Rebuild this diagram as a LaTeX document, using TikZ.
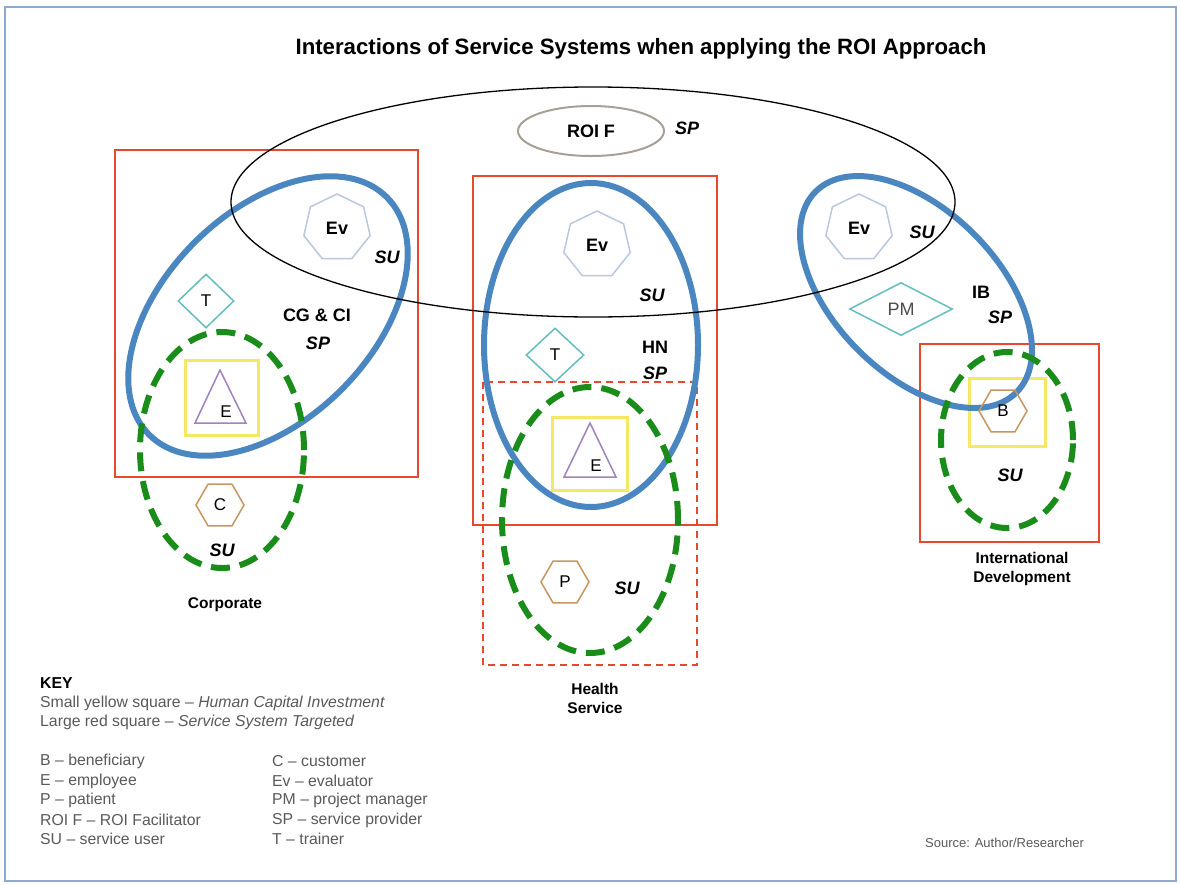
\documentclass[tikz,border=0pt]{standalone}
\usepackage{fontspec}
\setmainfont{Liberation Sans}
\usetikzlibrary{shapes.geometric,calc}
\definecolor{redc}{RGB}{232,72,44}
\definecolor{bluec}{RGB}{74,134,192}
\definecolor{greenc}{RGB}{26,140,26}
\definecolor{yellowc}{RGB}{245,232,100}
\definecolor{heptc}{RGB}{185,200,222}
\definecolor{diac}{RGB}{100,190,190}
\definecolor{purpc}{RGB}{160,130,190}
\definecolor{hexc}{RGB}{200,150,95}
\definecolor{roic}{RGB}{168,160,150}
\definecolor{framec}{RGB}{140,170,210}
\definecolor{keyc}{RGB}{90,90,90}
\begin{document}
\begin{tikzpicture}[x=1pt,y=-1pt,
  redbox/.style={draw=redc, line width=2},
  reddash/.style={draw=redc, line width=1.6, dash pattern=on 7pt off 5pt},
  blueline/.style={draw=bluec, line width=6},
  greenline/.style={draw=greenc, line width=6, dash pattern=on 19pt off 10pt},
  yellowsq/.style={draw=yellowc, line width=3},
  hept/.style={regular polygon, regular polygon sides=7, draw=heptc, line width=1.5, minimum size=68, inner sep=0, font=\fontsize{18}{21}\selectfont\bfseries},
  hexa/.style={regular polygon, regular polygon sides=6, draw=hexc, line width=1.5, minimum size=48, inner sep=0, font=\fontsize{17}{20}\selectfont},
  dia/.style={diamond, draw=diac, line width=1.5, inner sep=0, font=\fontsize{17}{20}\selectfont},
  tri/.style={draw=purpc, line width=1.5},
  lab/.style={inner sep=0, font=\fontsize{18}{21}\selectfont\bfseries},
  ilab/.style={inner sep=0, font=\fontsize{18}{21}\selectfont\bfseries\itshape},
  area/.style={inner sep=0, align=center, font=\fontsize{15.5}{19}\selectfont\bfseries},
  keytxt/.style={anchor=west, inner sep=0, text=keyc, font=\fontsize{15.8}{19}\selectfont}
]
\useasboundingbox (0,0) rectangle (1180,884);
\fill[white] (0,0) rectangle (1180,884);
\draw[framec, line width=1.5] (5,7) rectangle (1176,881);

\node[inner sep=0, font=\fontsize{22.2}{26}\selectfont\bfseries] (title) at (641,49) {Interactions of Service Systems when applying the ROI Approach};

% red target boxes
\draw[redbox] (115,150) rectangle (418,477);
\draw[redbox] (473,176) rectangle (717,525);
\draw[redbox] (920,344) rectangle (1099,542);
\draw[reddash] (483,382) rectangle (697,665);

% yellow squares
\draw[yellowsq] (185,360) rectangle (258,435);
\draw[yellowsq] (552,417) rectangle (627,490);
\draw[yellowsq] (969,378) rectangle (1045,446);

% blue ellipses
\draw[blueline, rotate around={45:(268,316)}] (268,316) ellipse [x radius=168pt, y radius=104pt];
\draw[blueline] (591,345) ellipse [x radius=107pt, y radius=162pt];
\draw[blueline, rotate around={-45:(916,292)}] (916,292) ellipse [x radius=142pt, y radius=82pt];

% green dashed ellipses
\draw[greenline] (222,450) ellipse [x radius=82pt, y radius=118pt];
\draw[greenline] (590,520) ellipse [x radius=88pt, y radius=133pt];
\draw[greenline] (1007,440) ellipse [x radius=66pt, y radius=88pt];

% big black ellipse
\draw[black, line width=1.3] (593,202) ellipse [x radius=362pt, y radius=115pt];

% ROI F
\node[ellipse, draw=roic, line width=2, minimum width=146, minimum height=50, inner sep=0, font=\fontsize{18}{21}\selectfont\bfseries] (roif) at (591,131) {ROI F};
\node[ilab] (roisp) at (687,128) {SP};

% Corporate
\node[hept] (ev1) at (337,228) {Ev};
\node[ilab] (su1) at (387,257) {SU};
\node[lab] (cg) at (317,315) {CG \& CI};
\node[ilab] (sp1) at (318,343) {SP};
\node[dia, minimum width=56, minimum height=54] (t1) at (206,301) {T};
\coordinate (tri1) at (220,403);
\draw[tri] ($(tri1)+(0,-33)$) -- ($(tri1)+(-25,20)$) -- ($(tri1)+(26,20)$) -- cycle;
\node[inner sep=0, font=\fontsize{17}{20}\selectfont] (e1) at (226,412) {E};
\node[hexa] (c1) at (220,505) {C};
\node[ilab] (su1b) at (222,550) {SU};
\node[area] (corp) at (225,605) {Corporate};

% Health service
\node[hept] (ev2) at (597,245) {Ev};
\node[ilab] (su2) at (652,295) {SU};
\node[lab] (hn) at (655,347) {HN};
\node[ilab] (sp2) at (655,373) {SP};
\node[dia, minimum width=58, minimum height=54] (t2) at (555,355) {T};
\coordinate (tri2) at (590,457);
\draw[tri] ($(tri2)+(0,-34)$) -- ($(tri2)+(-26,20)$) -- ($(tri2)+(26,20)$) -- cycle;
\node[inner sep=0, font=\fontsize{17}{20}\selectfont] (e2) at (596,466) {E};
\node[hexa] (p2) at (565,582) {P};
\node[ilab] (su2b) at (627,588) {SU};
\node[area] (hs) at (595,698) {Health\\Service};

% International development
\node[hept] (ev3) at (859,228) {Ev};
\node[ilab] (su3) at (922,232) {SU};
\node[dia, minimum width=103, minimum height=53, text=black!70, font=\fontsize{18}{21}\selectfont] (pm) at (901,309) {PM};
\node[lab] (ib) at (981,292) {IB};
\node[ilab] (sp3) at (1000,317) {SP};
\node[hexa] (b3) at (1003,411) {B};
\node[ilab] (su3b) at (1010,475) {SU};
\node[area] (intl) at (1022,569) {International\\Development};

% key
\node[anchor=west, inner sep=0, font=\fontsize{15.8}{19}\selectfont\bfseries] (key) at (40,683) {KEY};
\node[keytxt] (k1) at (40,703) {Small yellow square -- \textit{Human Capital Investment}};
\node[keytxt] (k2) at (40,722) {Large red square -- \textit{Service System Targeted}};
\node[keytxt] (k3) at (40,761) {B -- beneficiary};
\node[keytxt] (k4) at (40,781) {E -- employee};
\node[keytxt] (k5) at (40,800) {P -- patient};
\node[keytxt] (k6) at (40,820) {ROI F -- ROI Facilitator};
\node[keytxt] (k7) at (40,839) {SU -- service user};
\node[keytxt] (k8) at (272,761) {C -- customer};
\node[keytxt] (k9) at (272,781) {Ev -- evaluator};
\node[keytxt] (k10) at (272,800) {PM -- project manager};
\node[keytxt] (k11) at (272,820) {SP -- service provider};
\node[keytxt] (k12) at (272,839) {T -- trainer};

\node[anchor=west, inner sep=0, text=keyc, font=\fontsize{13}{15}\selectfont] (src) at (925,843) {Source: Author/Researcher};
\end{tikzpicture}
\end{document}
